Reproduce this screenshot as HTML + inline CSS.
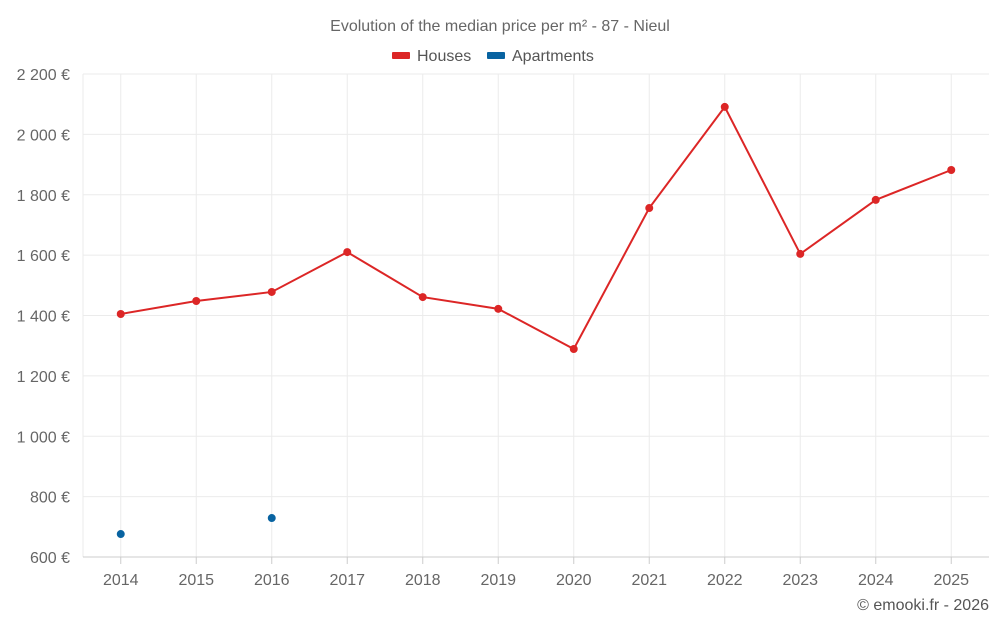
<!DOCTYPE html>
<html><head><meta charset="utf-8"><style>
html,body{margin:0;padding:0;background:#fff;}
svg{display:block;font-family:"Liberation Sans",sans-serif;}
</style></head><body>
<svg id="chart" width="1000" height="625">
<text x="500" y="31" text-anchor="middle" font-size="16" fill="#666">Evolution of the median price per m² - 87 - Nieul</text>
<g>
<g><rect x="392" y="52" width="18" height="7" rx="1" fill="#dc2626"/><text x="417" y="61" font-size="16" fill="#555">Houses</text></g>
<g><rect x="487" y="52" width="18" height="7" rx="1" fill="#0863a1"/><text x="512" y="61" font-size="16" fill="#555">Apartments</text></g>
</g>
<g id="grid"></g><g id="axes"></g><g id="series"></g>
<text x="989" y="610" text-anchor="end" font-size="16" fill="#555">© emooki.fr - 2026</text>
</svg>
<script>
const categories=["2014","2015","2016","2017","2018","2019","2020","2021","2022","2023","2024","2025"];
const houses=[1405,1448,1478,1610,1461,1422,1289,1756,2091,1604,1783,1882];
const apartments=[676,null,729,null,null,null,null,null,null,null,null,null];
const yTicks=[600,800,1000,1200,1400,1600,1800,2000,2200];
const yLabels=["600 €","800 €","1 000 €","1 200 €","1 400 €","1 600 €","1 800 €","2 000 €","2 200 €"];
const L=83,R=989,T=74,B=557,ymin=600,ymax=2200;
const bw=(R-L)/categories.length;
const x=i=>L+bw*(i+0.5);
const y=v=>B-(v-ymin)/(ymax-ymin)*(B-T);
const NS="http://www.w3.org/2000/svg";
function mk(p,tag,a){const e=document.createElementNS(NS,tag);for(const k in a)e.setAttribute(k,a[k]);p.appendChild(e);return e;}
const g=document.getElementById('grid'),ax=document.getElementById('axes'),s=document.getElementById('series');
yTicks.forEach((t,i)=>{
 const l=mk(g,'line',{x1:L,x2:R,y1:y(t),y2:y(t),stroke:'#ebebeb','stroke-width':1});
 
 
 const tx=mk(ax,'text',{x:70,y:y(t)+6,'text-anchor':'end','font-size':16,fill:'#666'});
 tx.textContent=yLabels[i];
 
 
});
const vl=mk(g,'line',{x1:L,x2:L,y1:T,y2:B,stroke:'#ebebeb'});


categories.forEach((c,i)=>{
 const l=mk(g,'line',{x1:x(i),x2:x(i),y1:T,y2:B,stroke:'#ebebeb'});
 
 
 const tk=mk(ax,'line',{x1:x(i),x2:x(i),y1:B,y2:B+7,stroke:'#ccc'});
 
 
 const tx=mk(ax,'text',{x:x(i),y:585,'text-anchor':'middle','font-size':16,fill:'#666'});
 tx.textContent=c;
 
 
});
const xa=mk(ax,'line',{x1:L,x2:R,y1:B,y2:B,stroke:'#ccc'});


const pts=houses.map((v,i)=>x(i)+','+y(v)).join(' ');
const pl=mk(s,'polyline',{points:pts,fill:'none',stroke:'#dc2626','stroke-width':2});


houses.forEach((v,i)=>{
 const c=mk(s,'circle',{cx:x(i),cy:y(v),r:4,fill:'#dc2626'});
 
 
});
apartments.forEach((v,i)=>{
 if(v==null)return;
 const c=mk(s,'circle',{cx:x(i),cy:y(v),r:4,fill:'#0863a1'});
 
 
});
</script>
</body></html>
